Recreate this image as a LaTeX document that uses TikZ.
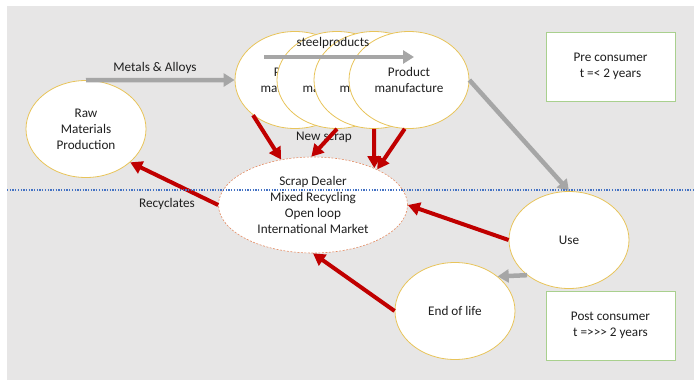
\documentclass[tikz,border=0pt]{standalone}
\usepackage{fontspec}
\setmainfont{Carlito}
\usetikzlibrary{arrows.meta,shapes.geometric}
\definecolor{bggray}{RGB}{231,230,230}
\definecolor{arrgray}{RGB}{166,166,166}
\definecolor{arrred}{RGB}{192,0,0}
\definecolor{ellborder}{RGB}{232,196,90}
\definecolor{scrapborder}{RGB}{228,140,100}
\definecolor{boxgreen}{RGB}{169,208,142}
\definecolor{dotblue}{RGB}{68,114,196}
\tikzset{
  txt/.style={font=\fontsize{13.2}{16}\selectfont, text=black!88},
  stage/.style={ellipse, draw=ellborder, line width=0.8pt, fill=white, minimum width=120pt, minimum height=97pt, inner sep=0pt, align=center, txt},
  scrapnode/.style={ellipse, draw=scrapborder, dashed, dash pattern=on 2pt off 1.5pt, line width=0.6pt, fill=white, minimum width=189pt, minimum height=96pt, inner sep=0pt, align=center, txt},
  infobox/.style={rectangle, draw=boxgreen, line width=1pt, fill=white, minimum width=129pt, minimum height=69pt, inner sep=0pt, align=center, txt},
  grayarrow/.style={draw=arrgray, line width=4.5pt, -{Triangle[length=11pt,width=13pt]}},
  redarrow/.style={draw=arrred, line width=4pt, -{Triangle[length=12pt,width=13pt]}},
  lbl/.style={txt, inner sep=1pt}
}
\begin{document}
\begin{tikzpicture}[x=1pt,y=-1pt]
\useasboundingbox (0,0) rectangle (694,380);
\fill[bggray] (7,6) rectangle (694,380);

% nodes
\node[stage] (raw) at (86,129) {Raw\\Materials\\Production};
\node[stage] (pm1) at (295,80) {Product\\manufacture};
\node[stage] (pm2) at (337,80) {Product\\manufacture};
\node[stage] (pm3) at (374,80) {Product\\manufacture};
\node[stage] (pm4) at (409,80) {Product\\manufacture};
\node[scrapnode] (scrap) at (313,205) {Scrap Dealer\\Mixed Recycling\\Open loop\\International Market};
\node[stage] (use) at (569,240) {Use};
\node[stage] (eol) at (455,311) {End of life};
\node[infobox] (pre) at (610.5,66.5) {Pre consumer\\t =< 2 years};
\node[infobox] (post) at (610.5,325.5) {Post consumer\\t =>{}>{}> 2 years};

% labels
\node[lbl] (lmetals) at (155,68) {Metals \& Alloys};
\node[lbl] (lsteel) at (333,43) {steelproducts};
\node[lbl] (lnew) at (324,137) {New scrap};
\node[lbl] (lrec) at (167,204) {Recyclates};

% gray arrows
\draw[grayarrow] (raw.north) -- (pm1.west);
\coordinate (sp1) at (264,57);
\coordinate (sp2) at (414,57);
\draw[grayarrow] (sp1) -- (sp2);
\draw[grayarrow] (pm4.east) -- (use.north);
\draw[grayarrow] (use.220) -- (eol.39);

% red arrows
\draw[redarrow] (pm1.220) -- (scrap.125);
\draw[redarrow] (pm2.south) -- (scrap.92);
\draw[redarrow] (pm3.south) -- (scrap.31);
\draw[redarrow] (pm4.-95) -- (scrap.29);
\draw[redarrow] (use.west) -- (scrap.east);
\draw[redarrow] (eol.west) -- (scrap.south);
\draw[redarrow] (scrap.west) -- (raw.-37);

% divider
\coordinate (d1) at (7,190);
\coordinate (d2) at (694,190);
\draw[dotblue, line width=1.4pt, dash pattern=on 1.3pt off 1.4pt] (d1) -- (d2);
\end{tikzpicture}
\end{document}
